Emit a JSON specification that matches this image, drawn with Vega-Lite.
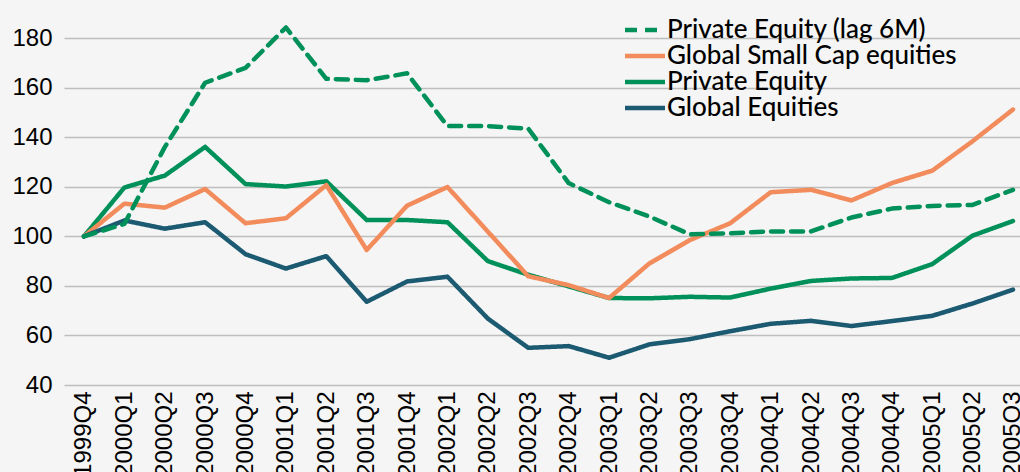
{
  "$schema": "https://vega.github.io/schema/vega-lite/v6.json",
  "width": 956,
  "height": 384,
  "autosize": {"type": "none"},
  "padding": {"left": 64, "top": 1, "right": 0, "bottom": 87},
  "background": "#F5F5F5",
  "config": {"view": {"stroke": null}},
  "data": {"values": [
    {"q":"1999Q4","s":"Private Equity","v":100},{"q":"2000Q1","s":"Private Equity","v":119.7},{"q":"2000Q2","s":"Private Equity","v":124.5},{"q":"2000Q3","s":"Private Equity","v":136.1},{"q":"2000Q4","s":"Private Equity","v":121.1},{"q":"2001Q1","s":"Private Equity","v":120.1},{"q":"2001Q2","s":"Private Equity","v":122.2},{"q":"2001Q3","s":"Private Equity","v":106.6},{"q":"2001Q4","s":"Private Equity","v":106.6},{"q":"2002Q1","s":"Private Equity","v":105.7},{"q":"2002Q2","s":"Private Equity","v":90.0},{"q":"2002Q3","s":"Private Equity","v":84.5},{"q":"2002Q4","s":"Private Equity","v":79.8},{"q":"2003Q1","s":"Private Equity","v":75.1},{"q":"2003Q2","s":"Private Equity","v":75.0},{"q":"2003Q3","s":"Private Equity","v":75.6},{"q":"2003Q4","s":"Private Equity","v":75.3},{"q":"2004Q1","s":"Private Equity","v":78.9},{"q":"2004Q2","s":"Private Equity","v":82.0},{"q":"2004Q3","s":"Private Equity","v":83.0},{"q":"2004Q4","s":"Private Equity","v":83.2},{"q":"2005Q1","s":"Private Equity","v":88.8},{"q":"2005Q2","s":"Private Equity","v":100.3},{"q":"2005Q3","s":"Private Equity","v":106.2},
    {"q":"1999Q4","s":"Global Small Cap equities","v":100},{"q":"2000Q1","s":"Global Small Cap equities","v":113.2},{"q":"2000Q2","s":"Global Small Cap equities","v":111.6},{"q":"2000Q3","s":"Global Small Cap equities","v":119.1},{"q":"2000Q4","s":"Global Small Cap equities","v":105.3},{"q":"2001Q1","s":"Global Small Cap equities","v":107.3},{"q":"2001Q2","s":"Global Small Cap equities","v":120.7},{"q":"2001Q3","s":"Global Small Cap equities","v":94.5},{"q":"2001Q4","s":"Global Small Cap equities","v":112.4},{"q":"2002Q1","s":"Global Small Cap equities","v":119.9},{"q":"2002Q2","s":"Global Small Cap equities","v":101.9},{"q":"2002Q3","s":"Global Small Cap equities","v":83.9},{"q":"2002Q4","s":"Global Small Cap equities","v":80.3},{"q":"2003Q1","s":"Global Small Cap equities","v":75.1},{"q":"2003Q2","s":"Global Small Cap equities","v":89.1},{"q":"2003Q3","s":"Global Small Cap equities","v":98.5},{"q":"2003Q4","s":"Global Small Cap equities","v":105.3},{"q":"2004Q1","s":"Global Small Cap equities","v":117.8},{"q":"2004Q2","s":"Global Small Cap equities","v":118.8},{"q":"2004Q3","s":"Global Small Cap equities","v":114.5},{"q":"2004Q4","s":"Global Small Cap equities","v":121.5},{"q":"2005Q1","s":"Global Small Cap equities","v":126.5},{"q":"2005Q2","s":"Global Small Cap equities","v":138.4},{"q":"2005Q3","s":"Global Small Cap equities","v":151.2},
    {"q":"1999Q4","s":"Global Equities","v":100},{"q":"2000Q1","s":"Global Equities","v":106.4},{"q":"2000Q2","s":"Global Equities","v":103.1},{"q":"2000Q3","s":"Global Equities","v":105.7},{"q":"2000Q4","s":"Global Equities","v":92.8},{"q":"2001Q1","s":"Global Equities","v":87.0},{"q":"2001Q2","s":"Global Equities","v":92.0},{"q":"2001Q3","s":"Global Equities","v":73.6},{"q":"2001Q4","s":"Global Equities","v":81.8},{"q":"2002Q1","s":"Global Equities","v":83.7},{"q":"2002Q2","s":"Global Equities","v":66.8},{"q":"2002Q3","s":"Global Equities","v":55.0},{"q":"2002Q4","s":"Global Equities","v":55.7},{"q":"2003Q1","s":"Global Equities","v":51.0},{"q":"2003Q2","s":"Global Equities","v":56.4},{"q":"2003Q3","s":"Global Equities","v":58.5},{"q":"2003Q4","s":"Global Equities","v":61.7},{"q":"2004Q1","s":"Global Equities","v":64.7},{"q":"2004Q2","s":"Global Equities","v":65.9},{"q":"2004Q3","s":"Global Equities","v":63.8},{"q":"2004Q4","s":"Global Equities","v":65.8},{"q":"2005Q1","s":"Global Equities","v":67.9},{"q":"2005Q2","s":"Global Equities","v":72.9},{"q":"2005Q3","s":"Global Equities","v":78.5},
    {"q":"1999Q4","s":"Private Equity (lag 6M)","v":100},{"q":"2000Q1","s":"Private Equity (lag 6M)","v":105},{"q":"2000Q2","s":"Private Equity (lag 6M)","v":136},{"q":"2000Q3","s":"Private Equity (lag 6M)","v":162},{"q":"2000Q4","s":"Private Equity (lag 6M)","v":168},{"q":"2001Q1","s":"Private Equity (lag 6M)","v":184.3},{"q":"2001Q2","s":"Private Equity (lag 6M)","v":163.6},{"q":"2001Q3","s":"Private Equity (lag 6M)","v":163},{"q":"2001Q4","s":"Private Equity (lag 6M)","v":165.8},{"q":"2002Q1","s":"Private Equity (lag 6M)","v":144.5},{"q":"2002Q2","s":"Private Equity (lag 6M)","v":144.5},{"q":"2002Q3","s":"Private Equity (lag 6M)","v":143.5},{"q":"2002Q4","s":"Private Equity (lag 6M)","v":121.5},{"q":"2003Q1","s":"Private Equity (lag 6M)","v":113.8},{"q":"2003Q2","s":"Private Equity (lag 6M)","v":108},{"q":"2003Q3","s":"Private Equity (lag 6M)","v":100.8},{"q":"2003Q4","s":"Private Equity (lag 6M)","v":101.2},{"q":"2004Q1","s":"Private Equity (lag 6M)","v":102},{"q":"2004Q2","s":"Private Equity (lag 6M)","v":102},{"q":"2004Q3","s":"Private Equity (lag 6M)","v":107.6},{"q":"2004Q4","s":"Private Equity (lag 6M)","v":111.2},{"q":"2005Q1","s":"Private Equity (lag 6M)","v":112.3},{"q":"2005Q2","s":"Private Equity (lag 6M)","v":112.7},{"q":"2005Q3","s":"Private Equity (lag 6M)","v":118.8}
  ]},
  "mark": {"type": "line", "strokeWidth": 4.5, "strokeCap": "round", "strokeJoin": "round"},
  "encoding": {
    "x": {
      "field": "q", "type": "ordinal", "sort": null,
      "scale": {"type": "point", "padding": 0.334, "align": 0.74},
      "axis": {"title": null, "labelAngle": -90, "labelFont": "Liberation Sans", "labelFontSize": 24, "labelColor": "#000000", "ticks": false, "domain": false, "grid": false, "labelPadding": 6, "labelOverlap": false}
    },
    "y": {
      "field": "v", "type": "quantitative",
      "scale": {"domain": [40, 195], "nice": false, "zero": false},
      "axis": {"title": null, "values": [40, 60, 80, 100, 120, 140, 160, 180], "labelFont": "Liberation Sans", "labelFontSize": 24, "labelColor": "#000000", "ticks": false, "domain": false, "grid": true, "gridColor": "#BEBEBE", "gridWidth": 1.5, "labelPadding": 12}
    },
    "color": {
      "field": "s", "type": "nominal",
      "scale": {"domain": ["Private Equity (lag 6M)", "Global Small Cap equities", "Private Equity", "Global Equities"], "range": ["#00915A", "#F28C5C", "#00915A", "#1B5A71"]},
      "legend": {"title": null, "orient": "none", "legendX": 568, "legendY": 16, "padding": 0, "rowPadding": 0, "symbolType": "M-2,0H2", "symbolSize": 400, "symbolStrokeWidth": 4.5, "labelFont": "Lato", "labelFontSize": 26, "labelFontWeight": 500, "labelColor": "#000000", "labelOffset": 9, "labelLimit": 500}
    },
    "strokeDash": {
      "field": "s", "type": "nominal",
      "scale": {"domain": ["Private Equity (lag 6M)", "Global Small Cap equities", "Private Equity", "Global Equities"], "range": [[12, 8], [1, 0], [1, 0], [1, 0]]},
      "legend": {"title": null, "orient": "none", "legendX": 568, "legendY": 16, "padding": 0, "rowPadding": 0, "symbolType": "M-2,0H2", "symbolSize": 400, "symbolStrokeWidth": 4.5, "labelFont": "Lato", "labelFontSize": 26, "labelFontWeight": 500, "labelColor": "#000000", "labelOffset": 9, "labelLimit": 500}
    }
  }
}
